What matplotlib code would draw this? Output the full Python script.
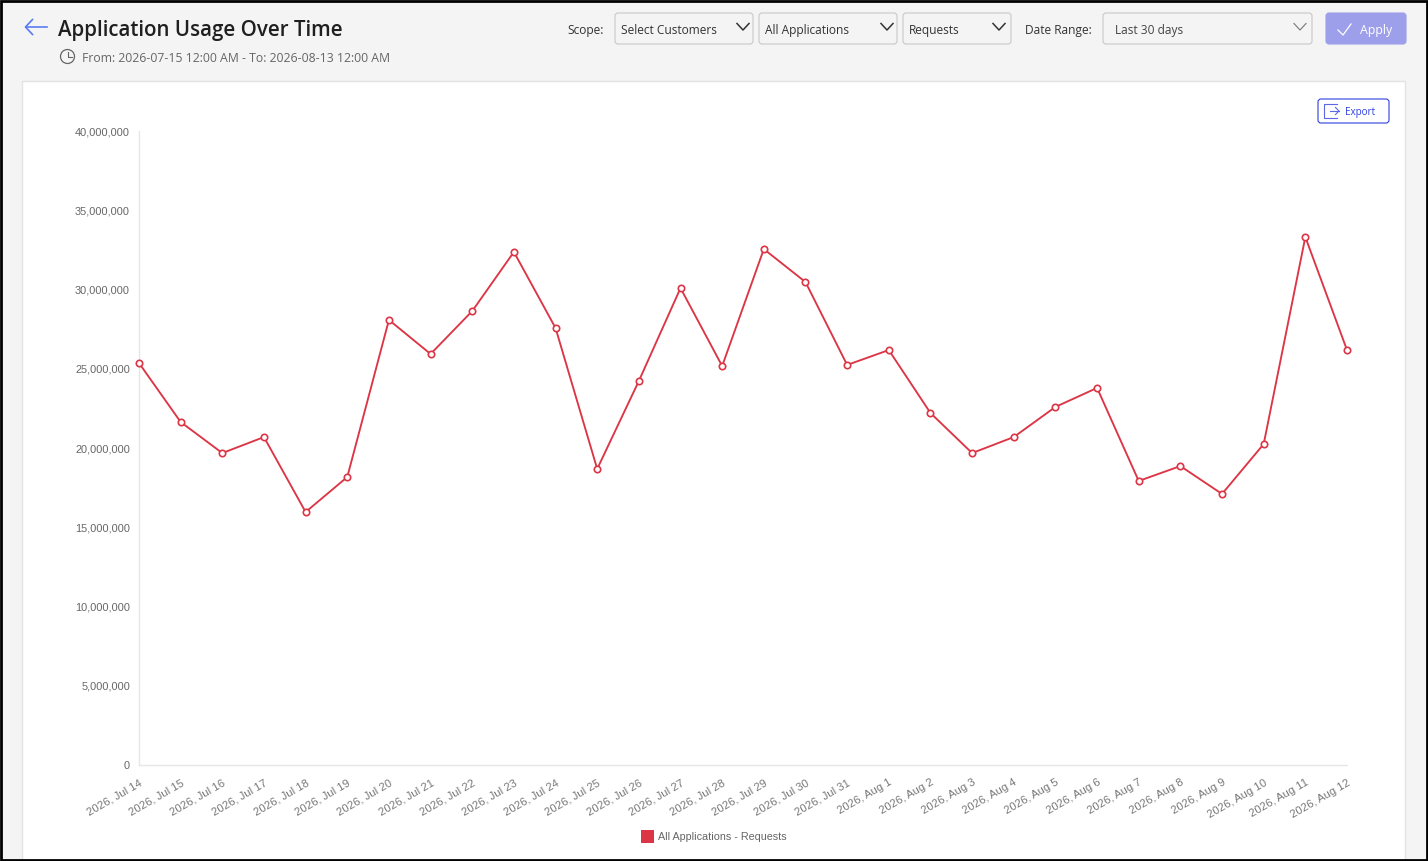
import matplotlib
matplotlib.use("Agg")
import matplotlib.pyplot as plt
from matplotlib.patches import FancyBboxPatch, Rectangle, Circle

W, H = 1428, 861
dates = ["Jul 14","Jul 15","Jul 16","Jul 17","Jul 18","Jul 19","Jul 20","Jul 21","Jul 22","Jul 23",
         "Jul 24","Jul 25","Jul 26","Jul 27","Jul 28","Jul 29","Jul 30","Jul 31","Aug 1","Aug 2",
         "Aug 3","Aug 4","Aug 5","Aug 6","Aug 7","Aug 8","Aug 9","Aug 10","Aug 11","Aug 12"]
requests = [25360000,21640000,19680000,20690000,15960000,18170000,28080000,25930000,28640000,32370000,
            27570000,18680000,24230000,30090000,25170000,32550000,30470000,25240000,26180000,22210000,
            19680000,20690000,22590000,23790000,17920000,18860000,17100000,20250000,33310000,26180000]
yticks = [0,5000000,10000000,15000000,20000000,25000000,30000000,35000000,40000000]
series_name = "All Applications - Requests"

UI = "Open Sans"
CHART = "Liberation Sans"
RED = "#dc3545"

fig = plt.figure(figsize=(W/100, H/100), dpi=100, facecolor="#f4f4f4")
bg = fig.add_axes([0,0,1,1])
bg.set_xlim(0,W); bg.set_ylim(H,0); bg.axis("off")

# card
bg.add_patch(Rectangle((22,81),1383,790,fc="white",ec="#e2e2e2",lw=1))

# header
bg.plot([25.5,46.5],[27,27],color="#5b7cf0",lw=1.2)
bg.plot([32.5,25.5,32.5],[19.5,27,34.5],color="#5b7cf0",lw=1.2)
bg.text(57.5,30.5,"Application Usage Over Time",fontsize=14.8,family=UI,weight="semibold",color="#1f1f1f",va="center")
bg.add_patch(Circle((67.5,56.5),7,fc="none",ec="#666666",lw=0.9))
bg.plot([67.5,67.5,71.5],[52,57,57],color="#666666",lw=0.8)
bg.text(82,58,"From: 2026-07-15 12:00 AM - To: 2026-08-13 12:00 AM",fontsize=8.8,family=UI,color="#666666",va="center")

def box(x0,x1,y0=13,y1=44,fc="#f4f4f4",ec="#c8c8c8",lw=0.8):
    bg.add_patch(FancyBboxPatch((x0+2,y0+2),x1-x0-4,y1-y0-4,boxstyle="round,pad=2,rounding_size=3",fc=fc,ec=ec,lw=lw))

def chevron(cx,color="#333333",lw=1.1):
    bg.plot([cx-6,cx,cx+6],[23.5,30,23.5],color=color,lw=lw)

bg.text(567,30.5,"Scope:",fontsize=8.55,family=UI,color="#333333",va="center")
box(615,753); bg.text(621,30.5,"Select Customers",fontsize=8.55,family=UI,color="#333333",va="center"); chevron(743)
box(759,897); bg.text(765,30.5,"All Applications",fontsize=8.55,family=UI,color="#333333",va="center"); chevron(887)
box(903,1011); bg.text(909,30.5,"Requests",fontsize=8.55,family=UI,color="#333333",va="center"); chevron(999)
bg.text(1025,30.5,"Date Range:",fontsize=8.55,family=UI,color="#333333",va="center")
box(1103,1312); bg.text(1115,30.5,"Last 30 days",fontsize=8.55,family=UI,color="#444444",va="center"); chevron(1300,"#777777",0.8)
box(1326,1406,fc="#9d9feb",ec="#9d9feb")
bg.plot([1338,1343,1351],[30,35,24],color="white",lw=0.9)
bg.text(1359.5,30.5,"Apply",fontsize=8.9,family=UI,color="white",va="center")

# export button
box(1318,1389,y0=99,y1=123,fc="white",ec="#2f3fe0",lw=0.8)
bg.plot([1337,1324,1324,1337],[103.5,103.5,118,118],color="#5a68e6",lw=0.8)
bg.plot([1330,1339],[111,111],color="#5a68e6",lw=0.8)
bg.plot([1335.5,1339,1335.5],[107.5,111,114.5],color="#5a68e6",lw=0.8)
bg.text(1344.5,112,"Export",fontsize=7.1,family=UI,color="#2f3fe0",va="center")

# frame
bg.add_patch(Rectangle((1,1),W-2,H-2,fc="none",ec="black",lw=2,zorder=20))

# chart
x0,x1,ytop,ybot = 139,1347,131,765
ax = fig.add_axes([x0/W,1-ybot/H,(x1-x0)/W,(ybot-ytop)/H])
ax.patch.set_alpha(0)
xs = list(range(len(dates)))
ax.plot(xs,requests,color=RED,lw=1.35,marker="o",ms=4.6,mfc="white",mec=RED,mew=1.2,clip_on=False,zorder=5)
ax.set_xlim(0,len(dates)-1); ax.set_ylim(0,40000000)
ax.set_yticks(yticks)
ax.set_yticklabels([f"{v:,}" for v in yticks],fontsize=7.9,family=CHART,color="#666666")
ax.set_xticks(xs)
ax.set_xticklabels([f"2026, {d}" for d in dates],fontsize=8.1,family=CHART,color="#777777",rotation=30,ha="right",rotation_mode="anchor")
ax.tick_params(axis="both",length=0)
ax.tick_params(axis="y",pad=6.5)
ax.tick_params(axis="x",pad=9)
for s in ("top","right"):
    ax.spines[s].set_visible(False)
for s in ("left","bottom"):
    ax.spines[s].set_color("#e6e6e6"); ax.spines[s].set_linewidth(1)

# legend
bg.add_patch(Rectangle((641,830),13,13,fc=RED,ec="none"))
bg.text(658.5,836.5,series_name,fontsize=7.75,family=CHART,color="#666666",va="center")

fig.savefig("out.png",dpi=100)
